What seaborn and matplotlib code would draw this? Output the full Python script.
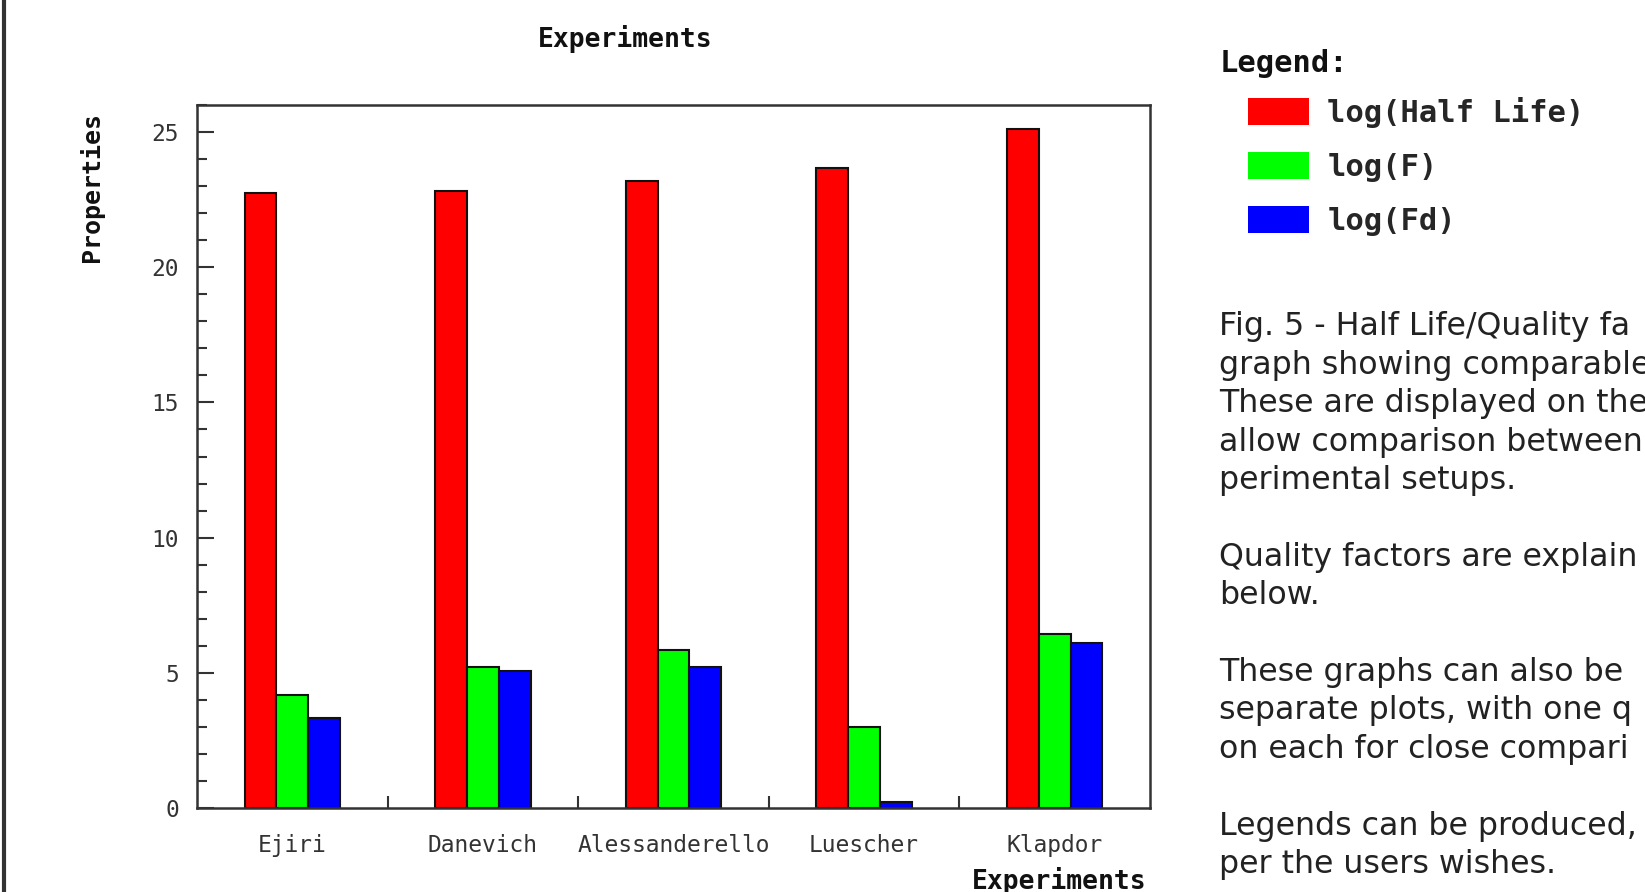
import numpy as np
import pandas as pd
import seaborn as sns
import matplotlib.pyplot as plt
from matplotlib.patches import Patch
from matplotlib.lines import Line2D
from matplotlib.ticker import MultipleLocator, FixedLocator

# values
experiments = ['Ejiri', 'Danevich', 'Alessanderello', 'Luescher', 'Klapdor']
half_life = [22.75, 22.83, 23.18, 23.68, 25.12]
log_f = [4.19, 5.20, 5.86, 3.00, 6.44]
log_fd = [3.34, 5.05, 5.20, 0.23, 6.12]
series = ['log(Half Life)', 'log(F)', 'log(Fd)']
colors = ['#ff0000', '#00ff00', '#0000ff']

# caption as visible in the reference (cut by the right edge there)
caption = ['Fig. 5 - Half Life/Quality fa',
           'graph showing comparable',
           'These are displayed on the',
           'allow comparison between',
           'perimental setups.',
           '',
           'Quality factors are explain',
           'below.',
           '',
           'These graphs can also be',
           'separate plots, with one q',
           'on each for close compari',
           '',
           'Legends can be produced,',
           'per the users wishes.']

df = pd.DataFrame({'Experiment': experiments * 3,
                   'Quantity': np.repeat(series, len(experiments)),
                   'Value': half_life + log_f + log_fd})

sns.set_style('white')
plt.rcParams['font.family'] = ['DejaVu Sans Mono']

W, H = 1645, 892
fig = plt.figure(figsize=(W / 100, H / 100), dpi=100)
ax = fig.add_axes([197 / W, 1 - 808 / H, (1150 - 197) / W, (808 - 105) / H])

sns.barplot(data=df, x='Experiment', y='Value', hue='Quantity',
            palette=colors, saturation=1, width=0.5,
            edgecolor='#111111', linewidth=1.5, legend=False, ax=ax)

ax.set_xlim(-0.5, 4.5)
ax.set_ylim(0, 26)
ax.yaxis.set_major_locator(MultipleLocator(5))
ax.yaxis.set_minor_locator(MultipleLocator(1))
ax.xaxis.set_minor_locator(FixedLocator([0.5, 1.5, 2.5, 3.5]))
ax.tick_params(axis='x', which='major', length=0, pad=19, labelsize=16.5,
               labelcolor='#333333')
ax.tick_params(axis='x', which='minor', direction='in', length=9,
               width=1.5, bottom=True, color='#333333')
ax.tick_params(axis='y', which='major', direction='in', length=12,
               width=1.5, left=True, pad=13, labelsize=16.5,
               color='#333333', labelcolor='#333333')
ax.tick_params(axis='y', which='minor', direction='in', length=7,
               width=1.5, left=True, color='#333333')
ax.set_xlabel('')
ax.set_ylabel('')
for s in ax.spines.values():
    s.set_visible(True)
    s.set_color('#333333')
    s.set_linewidth(1.8)

fig.text(625 / W, 1 - 39 / H, 'Experiments', ha='center', va='center',
         fontsize=19, fontweight='bold', color='#111111')
fig.text(92 / W, 1 - 187 / H, 'Properties', rotation=90, ha='center',
         va='center', fontsize=18, fontweight='bold', color='#111111')
fig.text(1147 / W, 1 - 881 / H, 'Experiments', ha='right', va='center',
         fontsize=19, fontweight='bold', color='#111111')

# legend on the right
fig.text(1220 / W, 1 - 63 / H, 'Legend:', ha='left', va='center',
         fontsize=22, fontweight='bold', color='#111111')
handles = [Patch(facecolor=c, edgecolor='none') for c in colors]
leg = ax.legend(handles, series, loc='upper left',
                bbox_to_anchor=(1248 / W, 1 - 97 / H),
                bbox_transform=fig.transFigure, frameon=False,
                borderpad=0, borderaxespad=0, handlelength=2.0,
                handleheight=1.0, labelspacing=0.78, handletextpad=0.6,
                prop={'family': 'DejaVu Sans Mono', 'weight': 'bold',
                      'size': 22})

# caption text
for i, line in enumerate(caption):
    fig.text(1219 / W, 1 - (327 + 38.4 * i) / H, line, ha='left',
             va='center', fontsize=22.8, family='DejaVu Sans',
             color='#222222')

fig.add_artist(Line2D([4 / W, 4 / W], [0, 1], transform=fig.transFigure,
                      color='#333333', linewidth=3))

fig.savefig('out.png', dpi=100)
